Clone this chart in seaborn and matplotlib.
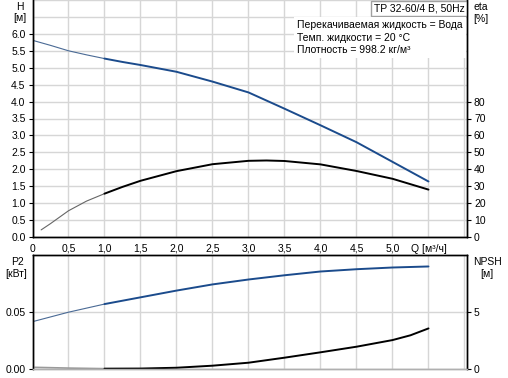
import numpy as np
import pandas as pd
import matplotlib
matplotlib.use("Agg")
import matplotlib.pyplot as plt
import seaborn as sns

# ---- data ----
q_h = [0.0, 0.25, 0.5, 0.75, 1.0, 1.25, 1.5, 2.0, 2.5, 3.0, 3.5, 4.0, 4.5, 5.0, 5.5]
head = [5.81, 5.66, 5.50, 5.38, 5.27, 5.17, 5.08, 4.88, 4.59, 4.27, 3.79, 3.30, 2.80, 2.22, 1.64]

q_eta = [0.12, 0.25, 0.5, 0.75, 1.0, 1.25, 1.5, 2.0, 2.5, 3.0, 3.25, 3.5, 4.0, 4.5, 5.0, 5.5]
eta = [4.2, 7.9, 15.5, 21.2, 25.6, 29.6, 33.2, 38.9, 43.0, 45.0, 45.2, 44.9, 42.9, 39.0, 34.4, 28.0]

q_p2 = [0.0, 0.5, 1.0, 1.5, 2.0, 2.5, 3.0, 3.5, 4.0, 4.5, 5.0, 5.5]
p2 = [0.0414, 0.0497, 0.0568, 0.0627, 0.0686, 0.0740, 0.0783, 0.0820, 0.0853, 0.0873, 0.0888, 0.0897]

q_npsh = [0.0, 0.5, 1.0, 1.5, 2.0, 2.5, 3.0, 3.5, 4.0, 4.5, 5.0, 5.25, 5.5]
npsh = [0.15, 0.08, 0.03, 0.04, 0.11, 0.29, 0.55, 0.99, 1.46, 1.95, 2.53, 2.95, 3.55]

x_ticks = [0, 0.5, 1.0, 1.5, 2.0, 2.5, 3.0, 3.5, 4.0, 4.5, 5.0, 5.5, 6.0]
x_labels = ["0", "0,5", "1,0", "1,5", "2,0", "2,5", "3,0", "3,5", "4,0", "4,5", "5,0", "Q [м³/ч]", ""]
h_ticks = [0.0, 0.5, 1.0, 1.5, 2.0, 2.5, 3.0, 3.5, 4.0, 4.5, 5.0, 5.5, 6.0]
eta_ticks = [0, 10, 20, 30, 40, 50, 60, 70, 80]
p2_ticks = [0.00, 0.05]
npsh_ticks = [0, 5]

title_text = "TP 32-60/4 B, 50Hz"
info_text = "Перекачиваемая жидкость = Вода\nТемп. жидкости = 20 °C\nПлотность = 998.2 кг/м³"

# ---- style ----
sns.set_style("white")
plt.rcParams["font.family"] = ["Liberation Sans", "DejaVu Sans"]
plt.rcParams["font.size"] = 7.5

BLUE = "#1b4b8c"
GRID = "#d6d6d6"
W, H = 508, 378

fig = plt.figure(figsize=(W / 100, H / 100), dpi=100)
fig.patch.set_facecolor("white")

def rect(l, t, r, b):
    return [l / W, 1 - b / H, (r - l) / W, (b - t) / H]

ax1 = fig.add_axes(rect(32.5, 0, 467, 237))
ax2 = fig.add_axes(rect(32.5, 254.7, 467, 369))
ax1e = ax1.twinx()
ax2n = ax2.twinx()

XMAX = 6.035

def split(q, v):
    df = pd.DataFrame({"q": q, "v": v})
    return df[df.q <= 1.0], df[df.q >= 1.0]

def draw(ax, q, v, color, thin_color=None, thin_lw=0.8, thick_lw=1.4):
    thin, thick = split(q, v)
    sns.lineplot(data=thin, x="q", y="v", ax=ax, color=thin_color or color,
                 lw=thin_lw, sort=True, estimator=None)
    sns.lineplot(data=thick, x="q", y="v", ax=ax, color=color,
                 lw=thick_lw, sort=True, estimator=None)

# ---- curves ----
draw(ax1, q_h, head, BLUE, thin_color="#4a6a95")
draw(ax1e, q_eta, eta, "black", thin_color="#666666")
draw(ax2, q_p2, p2, BLUE, thin_color="#4a6a95")
draw(ax2n, q_npsh, npsh, "black", thin_color="#9a9a9a", thin_lw=1.2)

# ---- top panel ----
for ax in (ax1, ax1e):
    ax.set_xlim(0, XMAX)
ax1.set_ylim(0, 7)
ax1e.set_ylim(0, 140)

ax1.set_xticks(x_ticks)
ax1.set_xticklabels(x_labels)
ax1.set_yticks(h_ticks)
ax1.set_yticklabels([f"{t:.1f}" for t in h_ticks])
ax1.set_yticks([6.5, 7.0], minor=True)
ax1e.set_yticks(eta_ticks)
ax1e.set_yticklabels([str(t) for t in eta_ticks])

ax1.grid(True, which="both", color=GRID, lw=1.0)
ax1.set_axisbelow(True)
ax1.tick_params(axis="both", which="major", direction="out", length=3, width=0.8,
                pad=2, labelsize=7.5, colors="black")
ax1.tick_params(axis="y", which="minor", length=0)
ax1e.tick_params(axis="y", direction="out", length=3, width=0.8, pad=2,
                 labelsize=7.5, colors="black")
ax1e.grid(False)

for ax in (ax1, ax1e):
    ax.spines["top"].set_visible(False)
    for s in ("left", "right", "bottom"):
        ax.spines[s].set_color("black")
        ax.spines[s].set_linewidth(1.0)

# ---- bottom panel ----
for ax in (ax2, ax2n):
    ax.set_xlim(0, XMAX)
ax2.set_ylim(0, 0.1)
ax2n.set_ylim(0, 10)
ax2.set_xticks(x_ticks)
ax2.set_xticklabels([])
ax2.set_yticks(p2_ticks)
ax2.set_yticklabels(["0.00", "0.05"])
ax2n.set_yticks(npsh_ticks)
ax2n.set_yticklabels(["0", "5"])
ax2.grid(True, color=GRID, lw=1.0)
ax2.set_axisbelow(True)
ax2.tick_params(axis="x", length=0)
ax2.tick_params(axis="y", direction="out", length=3, width=0.8, pad=2,
                labelsize=7.5, colors="black")
ax2n.tick_params(axis="y", direction="out", length=3, width=0.8, pad=2,
                 labelsize=7.5, colors="black")
ax2n.grid(False)
for ax in (ax2, ax2n):
    for s in ("left", "right", "top"):
        ax.spines[s].set_color("black")
        ax.spines[s].set_linewidth(1.0)
    ax.spines["bottom"].set_color("#b0b0b0")
    ax.spines["bottom"].set_linewidth(1.0)

for ax in (ax1, ax1e, ax2, ax2n):
    ax.set_xlabel("")
    ax.set_ylabel("")

# ---- axis captions ----
def ftext(x, y, s, ha="center"):
    fig.text(x / W, 1 - y / H, s, ha=ha, va="center", fontsize=7.5, color="black")

ftext(20, 7, "H")
ftext(20, 18, "[м]")
ftext(481, 7, "eta")
ftext(481, 19, "[%]")
ftext(17, 262, "P2")
ftext(16, 274, "[кВт]")
ftext(487, 262, "NPSH")
ftext(487, 274, "[м]")

# ---- info boxes ----
ax1.text(0.995, 0.985, title_text, transform=ax1.transAxes, ha="right", va="top",
         fontsize=7.5, color="black",
         bbox=dict(boxstyle="square,pad=0.25", fc="white", ec="#a0a0a0", lw=1.0))
ax1.text(0.609, 0.915, info_text, transform=ax1.transAxes, ha="left", va="top",
         fontsize=7.5, color="black", linespacing=1.3,
         bbox=dict(boxstyle="square,pad=0.3", fc="white", ec="none"))

fig.savefig("out.png", dpi=100, facecolor="white")
